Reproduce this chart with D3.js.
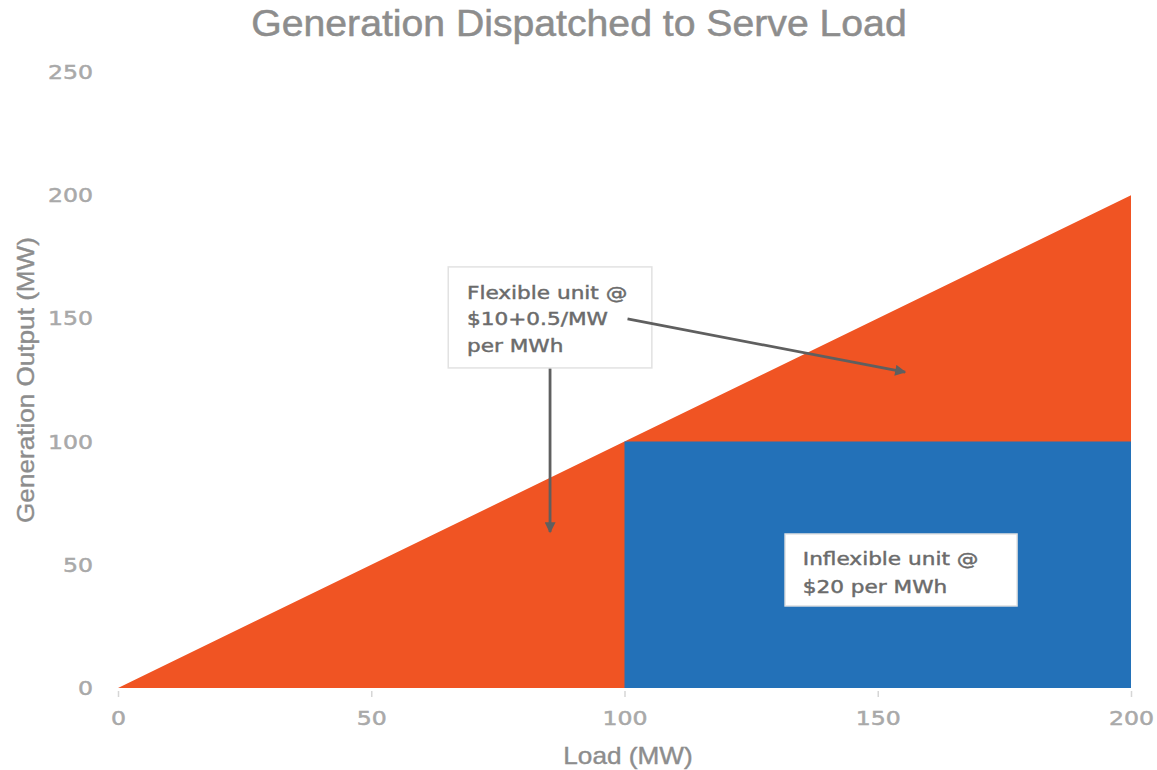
<!DOCTYPE html>
<html>
<head>
<meta charset="utf-8">
<script src="https://cdn.jsdelivr.net/npm/d3@7"></script>
<style>
  html, body { margin: 0; padding: 0; background: #ffffff; }
  svg { display: block; }
</style>
</head>
<body>
<svg id="chart" width="1157" height="770"></svg>
<script>
// ---- data ----
const load = [0, 100, 200];                 // Load (MW)
const totalOutput = [0, 100, 200];         // total generation = load
const inflexibleLoad = [100, 200];          // range where inflexible unit runs
const inflexibleOutput = [100, 100];        // inflexible unit output (MW)
const xTicks = [0, 50, 100, 150, 200];
const yTicks = [0, 50, 100, 150, 200, 250];
const titleText = "Generation Dispatched to Serve Load";
const xTitle = "Load (MW)";
const yTitle = "Generation Output (MW)";
const flexLabel = ["Flexible unit @", "$10+0.5/MW", "per MWh"];
const inflexLabel = ["Inflexible unit @", "$20 per MWh"];

// ---- setup ----
const svg = d3.select("#chart");
const x = d3.scaleLinear().domain([0, 200]).range([118, 1131]);
const y = d3.scaleLinear().domain([0, 250]).range([688, 72]);

const ORANGE = "#F05423";
const BLUE = "#2371B8";
const TICK_COLOR = "#a9a9a9";
const TITLE_COLOR = "#8d8d8d";
const NOTE_COLOR = "#6b6b6b";
const ARROW_COLOR = "#5f5f5f";

function stretch(sel, k) {
  sel.each(function () {
    const L = this.getComputedTextLength();
    d3.select(this).attr("textLength", L * k).attr("lengthAdjust", "spacingAndGlyphs");
  });
}

// arrow marker
svg.append("defs").append("marker")
  .attr("id", "arrow")
  .attr("viewBox", "0 0 10 10")
  .attr("refX", 9).attr("refY", 5)
  .attr("markerWidth", 13).attr("markerHeight", 11)
  .attr("markerUnits", "userSpaceOnUse")
  .attr("orient", "auto")
  .append("path").attr("d", "M0,0 L10,5 L0,10 Z").attr("fill", ARROW_COLOR);

// ---- marks ----
const totalData = load.map((d, i) => ({ x: d, y: totalOutput[i] }));
svg.append("path")
  .datum(totalData)
  .attr("fill", ORANGE)
  .attr("d", d3.area().x(d => x(d.x)).y0(y(0)).y1(d => y(d.y)));

const inflexData = inflexibleLoad.map((d, i) => ({ x: d, y: inflexibleOutput[i] }));
svg.append("path")
  .datum(inflexData)
  .attr("fill", BLUE)
  .attr("d", d3.area().x(d => x(d.x)).y0(y(0)).y1(d => y(d.y)));

// ---- axes ----
const xAxis = svg.append("g")
  .attr("transform", `translate(0,${y(0) + 3})`)
  .call(d3.axisBottom(x).tickValues(xTicks).tickSize(6).tickPadding(14).tickFormat(d3.format("d")));
xAxis.select(".domain").remove();
xAxis.selectAll(".tick line").attr("stroke", "#d6d6d6").attr("stroke-width", 1.5);
xAxis.selectAll(".tick text")
  .attr("fill", TICK_COLOR)
  .attr("stroke", TICK_COLOR).attr("stroke-width", 0.5)
  .style("font-family", "DejaVu Sans")
  .style("font-size", "20px");
stretch(xAxis.selectAll(".tick text"), 1.18);

const yAxis = svg.append("g")
  .attr("transform", `translate(93,0)`)
  .call(d3.axisLeft(y).tickValues(yTicks).tickSize(0).tickPadding(0).tickFormat(d3.format("d")));
yAxis.select(".domain").remove();
yAxis.selectAll(".tick text")
  .attr("fill", TICK_COLOR)
  .attr("stroke", TICK_COLOR).attr("stroke-width", 0.5)
  .style("font-family", "DejaVu Sans")
  .style("font-size", "20px");
stretch(yAxis.selectAll(".tick text"), 1.18);

// ---- titles ----
const t = svg.append("text")
  .attr("x", 579).attr("y", 36)
  .attr("text-anchor", "middle")
  .attr("fill", TITLE_COLOR)
  .attr("stroke", TITLE_COLOR).attr("stroke-width", 0.5)
  .style("font-family", "Liberation Sans, Arial, sans-serif")
  .style("font-size", "36px")
  .text(titleText);
stretch(t, 1.088);

const xt = svg.append("text")
  .attr("x", 628).attr("y", 764)
  .attr("text-anchor", "middle")
  .attr("fill", TITLE_COLOR)
  .attr("stroke", TITLE_COLOR).attr("stroke-width", 0.4)
  .style("font-family", "Liberation Sans, Arial, sans-serif")
  .style("font-size", "24px")
  .text(xTitle);
stretch(xt, 1.09);

const yt = svg.append("text")
  .attr("transform", "translate(34,380) rotate(-90)")
  .attr("text-anchor", "middle")
  .attr("fill", TITLE_COLOR)
  .attr("stroke", TITLE_COLOR).attr("stroke-width", 0.4)
  .style("font-family", "Liberation Sans, Arial, sans-serif")
  .style("font-size", "24px")
  .text(yTitle);
stretch(yt, 1.088);

// ---- annotations (positioned in data units) ----
function noteBox(x0, x1, yTop, yBot, lines, firstBaseline, lineGap, textX) {
  const g = svg.append("g");
  g.append("rect")
    .attr("x", x(x0)).attr("y", y(yTop))
    .attr("width", x(x1) - x(x0)).attr("height", y(yBot) - y(yTop))
    .attr("fill", "#ffffff")
    .attr("stroke", "#e2e2e2").attr("stroke-width", 1.5);
  const txt = g.selectAll("text").data(lines).enter().append("text")
    .attr("x", x(textX))
    .attr("y", (d, i) => y(yTop) + firstBaseline + i * lineGap)
    .attr("fill", NOTE_COLOR)
    .attr("stroke", NOTE_COLOR).attr("stroke-width", 0.45)
    .style("font-family", "DejaVu Sans")
    .style("font-size", "18px")
    .text(d => d);
  stretch(txt, 1.2);
}
noteBox(65.2, 105.4, 170.9, 129.9, flexLabel, 32, 26.5, 68.9);
noteBox(131.7, 177.5, 62.5, 33.3, inflexLabel, 31, 28, 135.2);

// arrows (drawn over the boxes)
const arrows = [
  { x1: 85.3, y1: 129.6, x2: 85.3, y2: 63.3 },
  { x1: 100.6, y1: 149.8, x2: 155.4, y2: 128.2 }
];
svg.selectAll("line.arrow").data(arrows).enter().append("line")
  .attr("class", "arrow")
  .attr("x1", d => x(d.x1)).attr("y1", d => y(d.y1))
  .attr("x2", d => x(d.x2)).attr("y2", d => y(d.y2))
  .attr("stroke", ARROW_COLOR).attr("stroke-width", 2.8)
  .attr("marker-end", "url(#arrow)");
</script>
</body>
</html>
